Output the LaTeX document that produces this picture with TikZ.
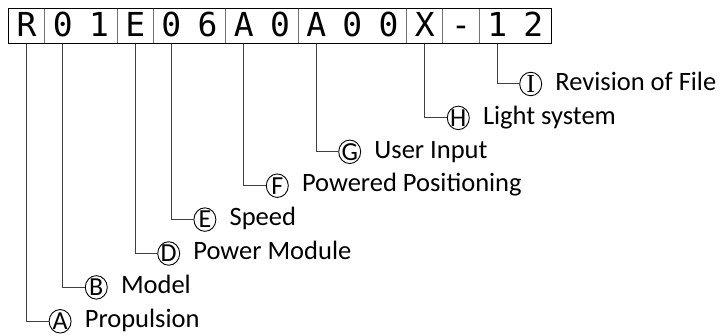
\documentclass[tikz,border=0pt]{standalone}
\usepackage{fontspec}
\setmainfont{Carlito}
\newfontfamily\monofont{DejaVu Sans Mono}
\newfontfamily\serifI{Liberation Serif}
\usetikzlibrary{fit,shapes.geometric}
\tikzset{
  chr/.style={minimum width=36.2pt, minimum height=35pt, inner sep=0pt, outer sep=0pt,
    text height=24pt, text depth=3.5pt,
    font=\monofont\fontsize{33}{33}\selectfont},
  grp/.style={draw=black!55, line width=1pt, inner sep=0pt},
  outer/.style={draw=black, line width=1pt, inner sep=0pt},
  circ/.style={draw=black, ellipse, line width=0.9pt, minimum width=22pt, minimum height=23.5pt,
    inner sep=0pt, outer sep=0pt},
  letter/.style={inner sep=0pt, outer sep=0pt, font=\fontsize{26}{26}\selectfont},
  lbl/.style={anchor=base west, inner sep=0pt, font=\fontsize{26.5}{26.5}\selectfont},
  conn/.style={draw=black!75, line width=1pt}
}
\begin{document}
\begin{tikzpicture}[x=1pt,y=-1pt]
\useasboundingbox (0,0) rectangle (723,336);
% characters
\foreach \c [count=\i from 0] in {R,0,1,E,0,6,A,0,A,0,0,X,-,1,2}{
  \node[chr] (ch\i) at ({8.5+36.2*(\i+0.5)},26.5) {\c};
}
% groups
\node[grp, fit=(ch0)] (g0) {};
\node[grp, fit=(ch1)(ch2)] (g1) {};
\node[grp, fit=(ch3)] (g2) {};
\node[grp, fit=(ch4)(ch5)] (g3) {};
\node[grp, fit=(ch6)(ch7)] (g4) {};
\node[grp, fit=(ch8)(ch10)] (g5) {};
\node[grp, fit=(ch11)] (g6) {};
\node[grp, fit=(ch12)] (g7) {};
\node[grp, fit=(ch13)(ch14)] (g8) {};
\node[outer, fit=(ch0)(ch14)] (box) {};
% circles
\node[circ] (cA) at (60.1,321.3) {};
\node[circ] (cB) at (96.3,287.4) {};
\node[circ] (cD) at (168.7,253.5) {};
\node[circ] (cE) at (204.9,219.6) {};
\node[circ] (cF) at (277.3,185.7) {};
\node[circ] (cG) at (349.7,151.8) {};
\node[circ] (cH) at (458.3,117.9) {};
\node[circ] (cI) at (530.7,84.0) {};
% letters inside circles
\node[letter] (lA) at (cA) {A};
\node[letter] (lB) at (cB) {B};
\node[letter] (lD) at (cD) {D};
\node[letter] (lE) at (cE) {E};
\node[letter] (lF) at (cF) {F};
\node[letter] (lG) at (cG) {G};
\node[letter] (lH) at (cH) {H};
\node[letter] (lI) at (cI) {\serifI I};
% labels
\node[lbl] (tA) at (84.6,327.6) {Propulsion};
\node[lbl] (tB) at (120.8,293.7) {Model};
\node[lbl] (tD) at (193.2,259.8) {Power Module};
\node[lbl] (tE) at (229.4,225.9) {Speed};
\node[lbl] (tF) at (301.8,192.0) {Powered Positioning};
\node[lbl] (tG) at (374.2,158.1) {User Input};
\node[lbl] (tH) at (482.8,124.2) {Light system};
\node[lbl] (tI) at (555.2,90.3) {Revision of File};
% connectors
\draw[conn] (ch0.south) |- (cA.west);
\draw[conn] (ch1.south) |- (cB.west);
\draw[conn] (ch3.south) |- (cD.west);
\draw[conn] (ch4.south) |- (cE.west);
\draw[conn] (ch6.south) |- (cF.west);
\draw[conn] (ch8.south) |- (cG.west);
\draw[conn] (ch11.south) |- (cH.west);
\draw[conn] (ch13.south) |- (cI.west);
\end{tikzpicture}
\end{document}
